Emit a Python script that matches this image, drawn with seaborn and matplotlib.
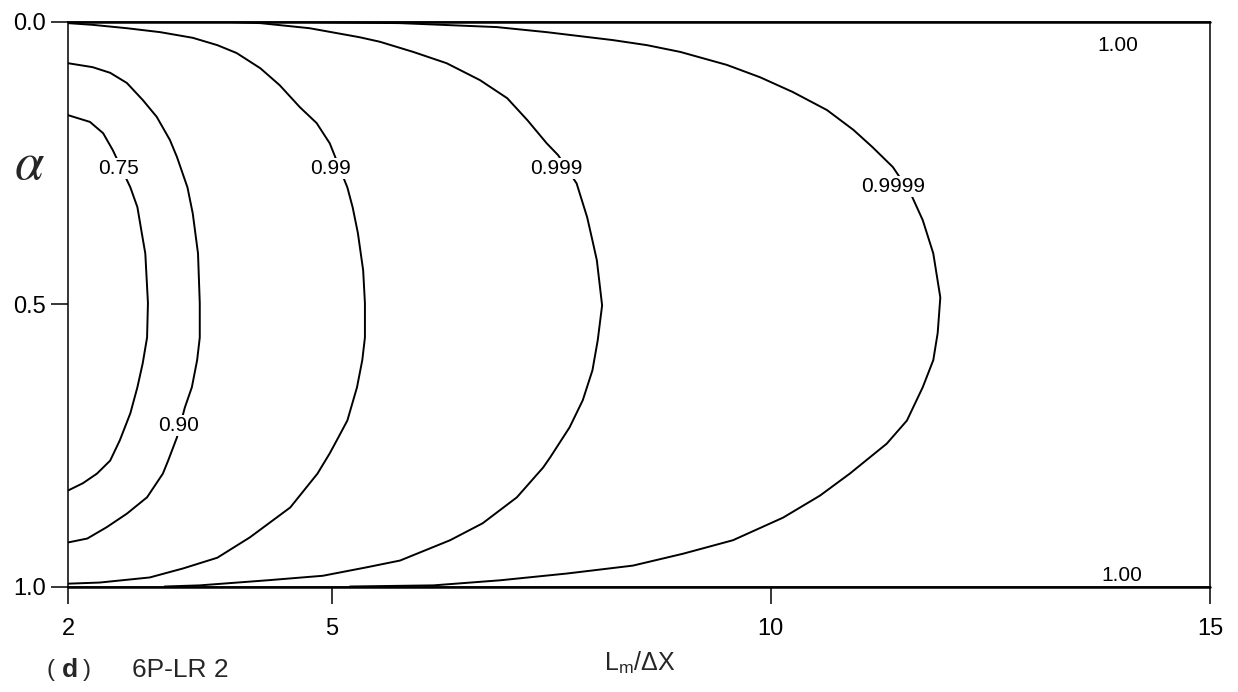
import matplotlib
matplotlib.use("Agg")
import matplotlib.pyplot as plt
import pandas as pd
import seaborn as sns

# Contour levels and the text printed on each line
levels = [0.75, 0.90, 0.99, 0.999, 0.9999, 1.00]
level_labels = ["0.75", "0.90", "0.99", "0.999", "0.9999", "1.00"]

# Iso-lines: L_m/dX values and the matching alpha values
lm_075 = [2.00, 2.25, 2.40, 2.51, 2.71, 2.79, 2.84, 2.88, 2.91, 2.90, 2.85,
          2.79, 2.71, 2.59, 2.48, 2.33, 2.17, 2.00]
alpha_075 = [0.165, 0.177, 0.197, 0.227, 0.293, 0.328, 0.374, 0.410, 0.498,
             0.559, 0.605, 0.647, 0.693, 0.741, 0.777, 0.800, 0.817, 0.830]

lm_090 = [2.00, 2.28, 2.48, 2.67, 2.85, 3.01, 3.16, 3.24, 3.36, 3.42, 3.48,
          3.50, 3.50, 3.47, 3.41, 3.33, 3.24, 3.14, 3.08, 2.90, 2.67, 2.44,
          2.22, 2.00]
alpha_090 = [0.073, 0.080, 0.090, 0.108, 0.138, 0.168, 0.209, 0.239, 0.293,
             0.339, 0.410, 0.498, 0.559, 0.599, 0.647, 0.683, 0.736, 0.777,
             0.800, 0.842, 0.871, 0.895, 0.915, 0.922]

lm_099 = [2.00, 2.28, 2.67, 3.05, 3.42, 3.70, 3.92, 4.19, 4.41, 4.64, 4.83,
          4.98, 5.18, 5.24, 5.30, 5.36, 5.38, 5.38, 5.35, 5.29, 5.18, 5.06,
          4.98, 4.84, 4.53, 4.07, 3.70, 3.31, 2.93, 2.36, 2.00]
alpha_099 = [0.002, 0.005, 0.011, 0.018, 0.028, 0.041, 0.055, 0.082, 0.112,
             0.151, 0.179, 0.215, 0.293, 0.328, 0.374, 0.440, 0.498, 0.559,
             0.599, 0.647, 0.706, 0.741, 0.764, 0.800, 0.860, 0.913, 0.949,
             0.968, 0.984, 0.993, 0.995]

lm_0999 = [3.84, 4.19, 4.75, 5.32, 5.55, 5.93, 6.31, 6.69, 7.00, 7.23, 7.45,
           7.58, 7.79, 7.91, 7.97, 8.02, 8.08, 8.03, 7.97, 7.86, 7.71, 7.49,
           7.41, 7.11, 6.72, 6.35, 5.78, 5.40, 4.90, 4.27, 3.50, 3.10]
alpha_0999 = [0.000, 0.002, 0.011, 0.027, 0.035, 0.053, 0.073, 0.103, 0.135,
              0.174, 0.215, 0.236, 0.286, 0.346, 0.387, 0.422, 0.502, 0.564,
              0.617, 0.670, 0.718, 0.771, 0.789, 0.842, 0.888, 0.918, 0.954,
              0.966, 0.981, 0.989, 0.998, 1.000]

lm_09999 = [4.64, 5.78, 6.88, 7.45, 8.20, 8.59, 8.97, 9.50, 9.88, 10.25,
            10.64, 10.94, 11.16, 11.39, 11.59, 11.73, 11.85, 11.93, 11.90,
            11.85, 11.73, 11.55, 11.32, 10.90, 10.56, 10.14, 9.57, 9.00, 8.43,
            7.68, 6.92, 6.16, 5.21]
alpha_09999 = [0.000, 0.002, 0.009, 0.018, 0.032, 0.041, 0.053, 0.076, 0.098,
               0.124, 0.156, 0.191, 0.222, 0.257, 0.303, 0.351, 0.410, 0.488,
               0.551, 0.599, 0.647, 0.706, 0.747, 0.800, 0.839, 0.878, 0.918,
               0.942, 0.963, 0.977, 0.989, 0.998, 1.000]

lm_100_top = [2.0, 15.0]
alpha_100_top = [0.0, 0.0]
lm_100_bottom = [2.0, 15.0]
alpha_100_bottom = [1.0, 1.0]

x_ticks = [2, 5, 10, 15]
y_ticks = [0.0, 0.5, 1.0]
y_tick_labels = ["0.0", "0.5", "1.0"]

# Assemble one long table, one "unit" per drawn line
lines = [
    (0.75, lm_075, alpha_075),
    (0.90, lm_090, alpha_090),
    (0.99, lm_099, alpha_099),
    (0.999, lm_0999, alpha_0999),
    (0.9999, lm_09999, alpha_09999),
]
rows = []
for uid, (lvl, xs, ys) in enumerate(lines):
    for i, (xv, yv) in enumerate(zip(xs, ys)):
        rows.append({"lm": xv, "alpha": yv, "level": lvl, "unit": uid, "order": i})
df = pd.DataFrame(rows)

edge_rows = []
for uid, (xs, ys) in enumerate([(lm_100_top, alpha_100_top),
                                 (lm_100_bottom, alpha_100_bottom)]):
    for i, (xv, yv) in enumerate(zip(xs, ys)):
        edge_rows.append({"lm": xv, "alpha": yv, "unit": uid, "order": i})
df_edge = pd.DataFrame(edge_rows)

sns.set_style("ticks")
plt.rcParams["font.family"] = ["Liberation Sans", "DejaVu Sans"]
plt.rcParams["mathtext.fontset"] = "stix"

W, H = 1238, 692
fig = plt.figure(figsize=(W / 100, H / 100), dpi=100)
ax = fig.add_axes([68 / W, 1 - 586.5 / H, (1210 - 68) / W, (586.5 - 22) / H])

sns.lineplot(data=df, x="lm", y="alpha", units="unit", estimator=None,
             sort=False, color="black", linewidth=1.4, ax=ax, legend=False)
sns.lineplot(data=df_edge, x="lm", y="alpha", units="unit", estimator=None,
             sort=False, color="black", linewidth=1.8, ax=ax, legend=False,
             clip_on=False)

ax.set_xlim(2, 15)
ax.set_ylim(1.0, 0.0)
ax.set_xticks(x_ticks)
ax.set_xticklabels([str(t) for t in x_ticks])
ax.set_yticks(y_ticks)
ax.set_yticklabels(y_tick_labels)

for side in ["left", "right", "top", "bottom"]:
    ax.spines[side].set_visible(True)
    ax.spines[side].set_linewidth(1.1)
    ax.spines[side].set_color("black")

ax.tick_params(axis="both", direction="out", length=12, width=1.1,
               colors="black", labelsize=17)
ax.tick_params(axis="x", pad=11)
ax.tick_params(axis="y", pad=4)

# Inline level labels
label_pos = {
    0.75: [(2.58, 0.259)],
    0.90: [(3.26, 0.715)],
    0.99: [(4.99, 0.259)],
    0.999: [(7.56, 0.259)],
    0.9999: [(11.39, 0.291)],
    1.00: [(13.95, 0.041), (14.00, 0.980)],
}
for lvl, txt in zip(levels, level_labels):
    for (px, py) in label_pos[lvl]:
        ax.text(px, py, txt, ha="center", va="center", fontsize=15,
                color="black",
                bbox=dict(facecolor="white", edgecolor="none", pad=0.6))

ax.set_xlabel(r"L$_\mathregular{m}$/ΔX", fontsize=18)
ax.xaxis.set_label_coords(0.501, -0.112)
ax.set_ylabel(r"$\alpha$", fontsize=38, rotation=0, ha="center", va="center")
ax.yaxis.set_label_coords(-0.034, 0.747)

# Panel caption
fy = 1 - 670 / H
fig.text(47 / W, fy, "(", fontsize=17, va="center", ha="left")
fig.text(62 / W, fy, "d", fontsize=19, fontweight="bold", va="center", ha="left")
fig.text(83 / W, fy, ")", fontsize=17, va="center", ha="left")
fig.text(132 / W, fy, "6P-LR 2", fontsize=19, va="center", ha="left")

fig.savefig("out.png", dpi=100, facecolor="white")
